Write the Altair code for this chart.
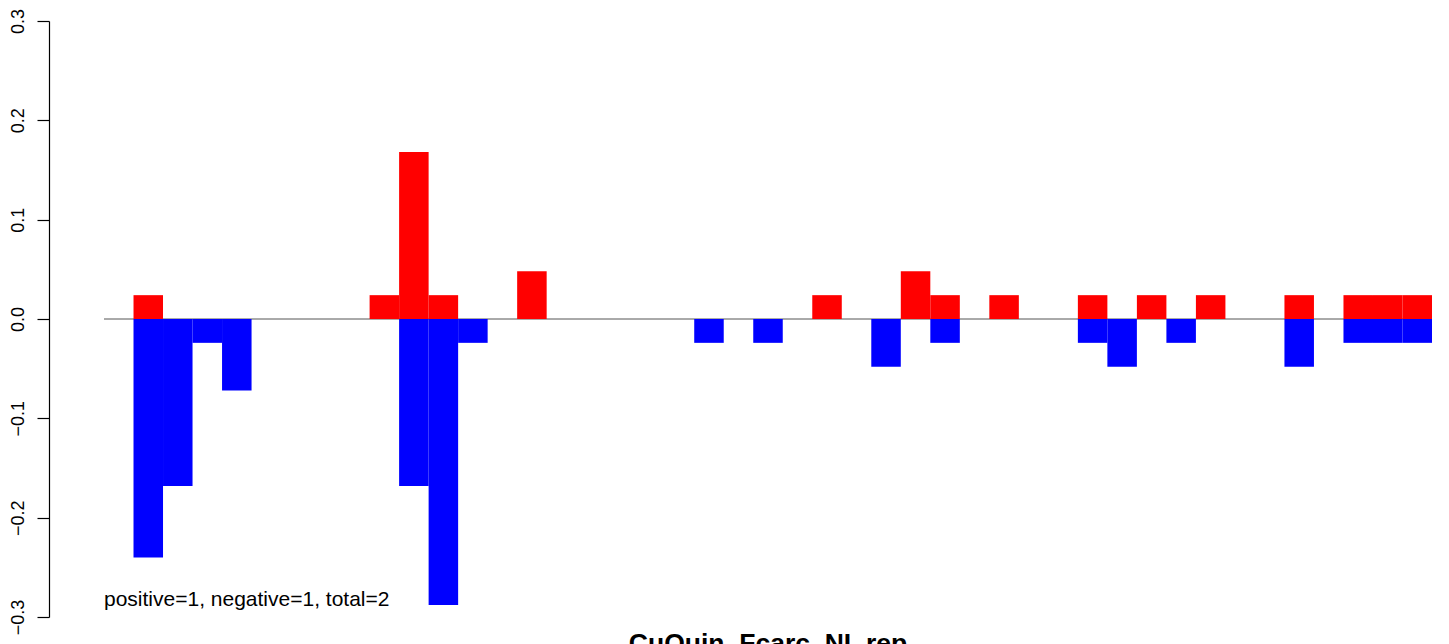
import altair as alt
import pandas as pd

# bin index (45 bins along the x range)
bins = list(range(45))
# positive (red) bar heights per bin
pos_bins = [1, 9, 10, 11, 14, 24, 27, 28, 30, 33, 35, 37, 40, 42, 43, 44]
pos_vals = [0.024, 0.024, 0.168, 0.024, 0.048, 0.024, 0.048, 0.024, 0.024, 0.024, 0.024, 0.024, 0.024, 0.024, 0.024, 0.024]
# negative (blue) bar heights per bin
neg_bins = [1, 2, 3, 4, 10, 11, 12, 20, 22, 26, 28, 33, 34, 36, 40, 42, 43, 44]
neg_vals = [-0.24, -0.168, -0.024, -0.072, -0.168, -0.288, -0.024, -0.024, -0.024, -0.048, -0.024, -0.024, -0.048, -0.024, -0.048, -0.024, -0.024, -0.024]
y_ticks = [-0.3, -0.2, -0.1, 0.0, 0.1, 0.2, 0.3]
title_text = "CuQuin_Fcarc_NI_rep"
note_text = "positive=1, negative=1, total=2"

rows = []
for b, v in zip(pos_bins, pos_vals):
    rows.append({"x0": b, "x1": b + 1, "v": v, "sign": "pos"})
for b, v in zip(neg_bins, neg_vals):
    rows.append({"x0": b, "x1": b + 1, "v": v, "sign": "neg"})
df = pd.DataFrame(rows)

W, H = 1328, 596
FONT = "Liberation Sans"

xscale = alt.Scale(domain=[bins[0], bins[-1] + 1], nice=False, zero=False)
yscale = alt.Scale(domain=[-0.3, 0.3], nice=False, zero=False)

base_line = alt.Chart(pd.DataFrame({"y": [0.0]})).mark_rule(color="#555555", strokeWidth=1).encode(
    y=alt.Y("y:Q", scale=yscale, axis=alt.Axis(
        values=y_ticks, format=".1f", title=None, grid=False,
        domainColor="black", tickColor="black", tickSize=12, tickWidth=1.2, domainWidth=1.2,
        labelAngle=270, labelAlign="center", labelBaseline="middle", labelPadding=19,
        labelFontSize=18, labelFont=FONT, labelColor="black", offset=55)),
    x=alt.value(0), x2=alt.value(W),
)

bars = alt.Chart(df).mark_rect().encode(
    x=alt.X("x0:Q", scale=xscale, axis=None),
    x2="x1:Q",
    y=alt.Y("v:Q", scale=yscale),
    y2=alt.datum(0),
    color=alt.Color("sign:N", scale=alt.Scale(domain=["pos", "neg"], range=["#FF0000", "#0000FF"]), legend=None),
)

note = alt.Chart(pd.DataFrame({"t": [note_text]})).mark_text(
    align="left", baseline="alphabetic", fontSize=21, font=FONT, color="black"
).encode(x=alt.value(0), y=alt.value(585), text="t:N")

title = alt.Chart(pd.DataFrame({"t": [title_text]})).mark_text(
    align="center", baseline="alphabetic", fontSize=26.5, fontWeight="bold", font=FONT, color="black"
).encode(x=alt.value(W / 2), y=alt.value(631), text="t:N")

chart = alt.layer(base_line, bars, note, title).properties(
    width=W, height=H,
    background="white",
    autosize=alt.AutoSizeParams(type="none"),
    padding={"left": 96, "top": 13, "right": 9, "bottom": 27},
).configure_view(stroke=None, strokeWidth=0)

chart.save("out.html", embed_options={"renderer": "svg", "actions": False})
